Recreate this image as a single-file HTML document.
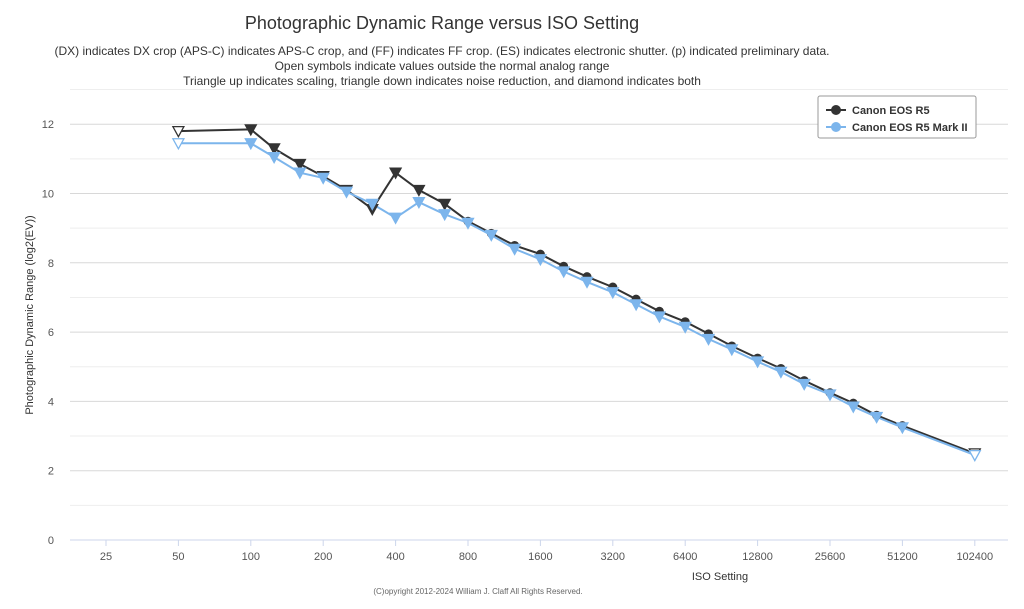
<!DOCTYPE html>
<html><head><meta charset="utf-8"><style>
body{margin:0;background:#fff;font-family:"Liberation Sans",sans-serif;}
svg text{font-family:"Liberation Sans",sans-serif;}
</style></head><body>
<svg id="s" width="1024" height="604" xmlns="http://www.w3.org/2000/svg">
<text x="442" y="29" text-anchor="middle" font-size="18" fill="#333">Photographic Dynamic Range versus ISO Setting</text>
<text x="442" y="55" text-anchor="middle" font-size="12" fill="#333">(DX) indicates DX crop (APS-C) indicates APS-C crop, and (FF) indicates FF crop. (ES) indicates electronic shutter. (p) indicated preliminary data.</text>
<text x="442" y="70" text-anchor="middle" font-size="12" fill="#333">Open symbols indicate values outside the normal analog range</text>
<text x="442" y="85" text-anchor="middle" font-size="12" fill="#333">Triangle up indicates scaling, triangle down indicates noise reduction, and diamond indicates both</text>
<g id="grid"></g>
<text transform="translate(33,315) rotate(-90)" text-anchor="middle" font-size="11" fill="#333">Photographic Dynamic Range (log2(EV))</text>
<text x="720" y="580" text-anchor="middle" font-size="11" fill="#333">ISO Setting</text>
<text x="478" y="594" text-anchor="middle" font-size="8" fill="#666">(C)opyright 2012-2024 William J. Claff All Rights Reserved.</text>
<g id="series"></g>
<rect x="818" y="96" width="158" height="42" fill="#fff" stroke="#999" stroke-width="1" rx="2"/>
<line x1="826" y1="110" x2="846" y2="110" stroke="#333" stroke-width="2"/><circle cx="836" cy="110" r="5" fill="#333"/>
<text x="852" y="114" font-size="11" font-weight="bold" fill="#333">Canon EOS R5</text>
<line x1="826" y1="127" x2="846" y2="127" stroke="#7cb5ec" stroke-width="2"/><circle cx="836" cy="127" r="5" fill="#7cb5ec"/>
<text x="852" y="131" font-size="11" font-weight="bold" fill="#333">Canon EOS R5 Mark II</text>
</svg>
<script>
const X=i=>106+72.4*Math.log2(i/25), Y=v=>540-34.65*v;
let g=document.getElementById('grid'),h='';
for(let v=0;v<=13;v++){h+=`<line x1="70" x2="1008" y1="${Y(v)}" y2="${Y(v)}" stroke="${v==0?'#ccd6eb':(v%2?'#eee':'#d8d8d8')}" stroke-width="1"/>`;
if(v%2==0&&v<13)h+=`<text x="54" y="${Y(v)+4}" text-anchor="end" font-size="11" fill="#555">${v}</text>`;}
[25,50,100,200,400,800,1600,3200,6400,12800,25600,51200,102400].forEach(i=>{h+=`<line x1="${X(i)}" x2="${X(i)}" y1="540" y2="546" stroke="#ccd6eb"/><text x="${X(i)}" y="560" text-anchor="middle" font-size="11" fill="#555">${i}</text>`;});
g.innerHTML=h;
const iso=[50,100,125,160,200,250,320,400,500,640,800,1000,1250,1600,2000,2500,3200,4000,5000,6400,8000,10000,12800,16000,20000,25600,32000,40000,51200,102400];
const a=[11.8,11.85,11.3,10.85,10.5,10.1,9.55,10.6,10.1,9.7,9.2,8.85,8.5,8.25,7.9,7.6,7.3,6.95,6.6,6.3,5.95,5.6,5.25,4.95,4.6,4.25,3.95,3.6,3.3,2.5];
const b=[11.45,11.45,11.05,10.6,10.45,10.05,9.7,9.3,9.75,9.4,9.15,8.8,8.4,8.1,7.75,7.45,7.15,6.8,6.45,6.15,5.8,5.5,5.15,4.85,4.5,4.2,3.85,3.55,3.25,2.45];
function tri(x,y,c,open){return `<path d="M${x-5.5},${y-4.5} L${x+5.5},${y-4.5} L${x},${y+5.5} Z" fill="${open?'#fff':c}" stroke="${c}" stroke-width="1.3"/>`;}
let s='';
[[a,'#333'],[b,'#7cb5ec']].forEach(([d,c])=>{
 let p=d.map((v,k)=>X(iso[k]).toFixed(1)+','+Y(v).toFixed(1)).join(' ');
 s+=`<polyline points="${p}" fill="none" stroke="${c}" stroke-width="2"/>`;
});
[[a,'#333',10],[b,'#7cb5ec',99]].forEach(([d,c,circFrom])=>{
 d.forEach((v,k)=>{let x=X(iso[k]),y=Y(v),open=(k==0||k==d.length-1);
  if(k>=circFrom&&!open)s+=`<circle cx="${x}" cy="${y}" r="4.5" fill="${c}"/>`;else s+=tri(x,y,c,open);});
});
document.getElementById('series').innerHTML=s;
</script>
</body></html>
